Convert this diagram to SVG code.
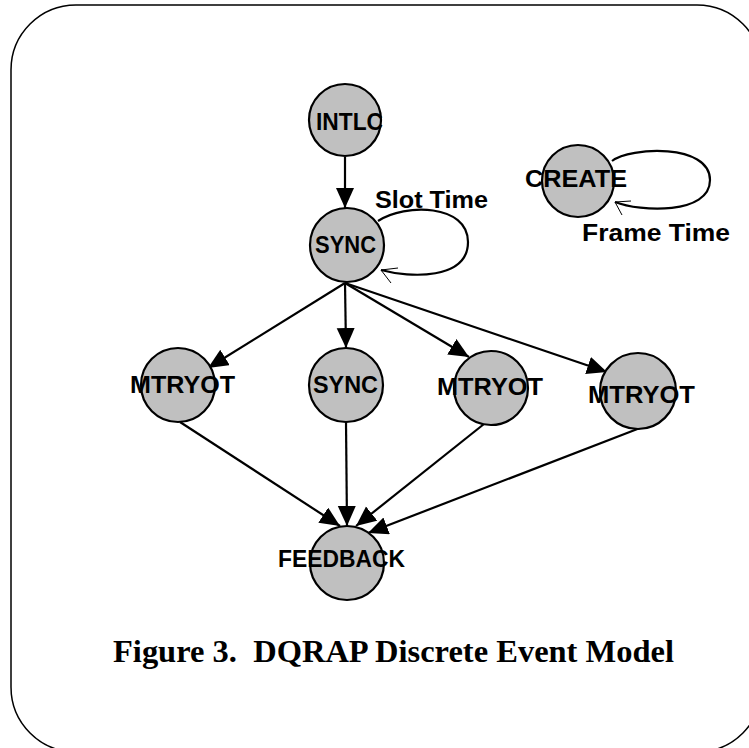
<svg xmlns="http://www.w3.org/2000/svg" width="749" height="748" viewBox="0 0 749 748">
<style>
.node{fill:#c0c0c0;stroke:#000;stroke-width:2.2}
.lbl{font-family:"Liberation Sans",Arial,sans-serif;font-weight:bold;font-size:24px;fill:#000;text-anchor:middle}
.edge{stroke:#000;stroke-width:2.2;fill:none}
.thin{stroke:#000;stroke-width:1;fill:none}
.cap{font-family:"Liberation Serif","Times New Roman",serif;font-weight:bold;font-size:31px;fill:#000}
</style>
<defs>
<marker id="ah" markerUnits="userSpaceOnUse" markerWidth="22" markerHeight="20" refX="20" refY="9" orient="auto">
<path d="M0,0 L20,9 L0,18 z" fill="#000"/>
</marker>
</defs>
<rect x="11" y="5" width="751" height="747" rx="65" ry="65" fill="#fff" stroke="#000" stroke-width="1.5"/>
<g id="connectors">
<line class="edge" x1="345" y1="157" x2="345" y2="208" marker-end="url(#ah)"/>
<line class="edge" x1="345" y1="283" x2="208" y2="368" marker-end="url(#ah)"/>
<line class="edge" x1="345" y1="283" x2="346" y2="348" marker-end="url(#ah)"/>
<line class="edge" x1="345" y1="283" x2="469" y2="357" marker-end="url(#ah)"/>
<line class="edge" x1="345" y1="283" x2="607" y2="372" marker-end="url(#ah)"/>
<line class="edge" x1="180" y1="422" x2="340" y2="526" marker-end="url(#ah)"/>
<line class="edge" x1="346" y1="422" x2="347" y2="526" marker-end="url(#ah)"/>
<line class="edge" x1="484" y1="424" x2="356" y2="526" marker-end="url(#ah)"/>
<line class="edge" x1="640" y1="428" x2="368" y2="533" marker-end="url(#ah)"/>
<path class="edge" d="M378,221 C405,203 468,204 468,242 C468,280 410,278 381,270"/>
<path class="thin" d="M398,268 L381,270 L391,283"/>
<path class="edge" d="M612,161 C630,147 710,143 710,180 C710,215 640,212 615,202"/>
<path class="thin" d="M631,201 L615,202 L622,215"/>
<text class="lbl" x="431.5" y="208" textLength="113" lengthAdjust="spacingAndGlyphs">Slot Time</text>
<text class="lbl" x="656" y="241" textLength="148" lengthAdjust="spacingAndGlyphs">Frame Time</text>
</g>
<g id="intlc"><circle class="node" cx="345" cy="120" r="36"/><text class="lbl" x="349.5" y="130" textLength="67" lengthAdjust="spacingAndGlyphs">INTLC</text></g>
<g id="sync1"><circle class="node" cx="347" cy="245" r="37"/><text class="lbl" x="345.5" y="253" textLength="61" lengthAdjust="spacingAndGlyphs">SYNC</text></g>
<g id="create"><circle class="node" cx="578" cy="181" r="36"/><text class="lbl" x="576" y="187" textLength="102" lengthAdjust="spacingAndGlyphs">CREATE</text></g>
<g id="mtryot1"><circle class="node" cx="178" cy="385" r="37"/><text class="lbl" x="182.5" y="393" textLength="105" lengthAdjust="spacingAndGlyphs">MTRYOT</text></g>
<g id="sync2"><circle class="node" cx="346" cy="385" r="37"/><text class="lbl" x="345.5" y="393" textLength="65" lengthAdjust="spacingAndGlyphs">SYNC</text></g>
<g id="mtryot2"><circle class="node" cx="491" cy="388" r="37"/><text class="lbl" x="490" y="395" textLength="106" lengthAdjust="spacingAndGlyphs">MTRYOT</text></g>
<g id="mtryot3"><circle class="node" cx="638" cy="391" r="38"/><text class="lbl" x="641.5" y="403" textLength="107" lengthAdjust="spacingAndGlyphs">MTRYOT</text></g>
<g id="feedback"><circle class="node" cx="347" cy="563" r="37"/><text class="lbl" x="341.5" y="567" textLength="127" lengthAdjust="spacingAndGlyphs">FEEDBACK</text></g>
<text class="cap" x="113" y="662" textLength="561" lengthAdjust="spacingAndGlyphs" xml:space="preserve">Figure 3.  DQRAP Discrete Event Model</text>
</svg>
